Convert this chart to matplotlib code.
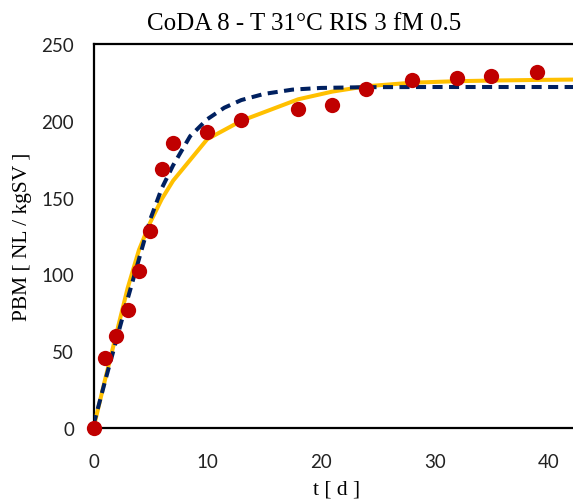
import matplotlib

matplotlib.use("Agg")
import matplotlib.pyplot as plt

# measured data (red dots)
t_meas = [0, 1, 2, 3, 4, 5, 6, 7, 10, 13, 18, 21, 24, 28, 32, 35, 39, 43]
pbm_meas = [0, 45.6, 60, 77, 102, 128, 168.5, 185.5, 193, 200.5, 207.5, 210,
            221, 226.5, 228, 229, 232, 233]

# model 1 (yellow solid)
t_fit1 = [0, 1, 2, 3, 4, 5, 6, 7, 10, 13, 18, 21, 24, 28, 32, 35, 39, 43]
pbm_fit1 = [0, 31, 61, 91, 116, 134, 149, 161, 188, 200, 214, 219, 222.5,
            224.8, 225.8, 226.2, 226.6, 226.9]

# model 2 (navy dashed)
t_fit2 = [0, 1, 2, 3, 4, 5, 6, 7, 8.5, 10, 11.5, 13, 15, 17.5, 20, 24, 30, 43]
pbm_fit2 = [2, 30, 57, 84, 110, 136, 156, 171, 190, 201, 208.5, 213.5, 217.5,
            220.3, 221.4, 221.9, 222, 222]

x_ticks = [0, 10, 20, 30, 40]
y_ticks = [0, 50, 100, 150, 200, 250]

W, H = 573, 502
fig = plt.figure(figsize=(W / 100, H / 100), dpi=100)
# right part of the plot area is cut off by the image edge
ax = fig.add_axes([93.5 / W, 73 / H, 568.5 / W, 384 / H])

ax.plot(t_fit1, pbm_fit1, color="#FFC000", lw=2.9, solid_joinstyle="round", zorder=3)
ax.plot(t_fit2, pbm_fit2, color="#002060", lw=2.9, dashes=(2.5, 1.6),
        dash_capstyle="butt", zorder=4)
ax.plot(t_meas, pbm_meas, "o", color="#C00000", ms=11, mec="none", zorder=5,
        clip_on=False)

ax.set_xlim(0, 50)
ax.set_ylim(0, 250)
ax.set_xticks(x_ticks)
ax.set_yticks(y_ticks)

tick_font = "Lato"
ax.tick_params(axis="both", length=0, labelsize=13.5)
ax.tick_params(axis="x", pad=18)
ax.tick_params(axis="y", pad=14)
for lab in ax.get_xticklabels() + ax.get_yticklabels():
    lab.set_family(tick_font)
    lab.set_color("#222222")

for side in ax.spines.values():
    side.set_linewidth(1.6)
    side.set_color("black")

serif = ["Liberation Serif", "DejaVu Serif"]
fig.text(304 / W, 1 - 24 / H, "CoDA 8 - T 31°C RIS 3 fM 0.5", ha="center",
         va="center", fontsize=18, family=serif)
fig.text(23 / W, 1 - 237 / H, "PBM [ NL / kgSV ]", ha="center", va="center",
         rotation=90, fontsize=15.5, family=serif)
fig.text(337 / W, 1 - 490 / H, "t [ d ]", ha="center", va="center",
         fontsize=15.5, family=serif)

fig.savefig("out.png", dpi=100)
